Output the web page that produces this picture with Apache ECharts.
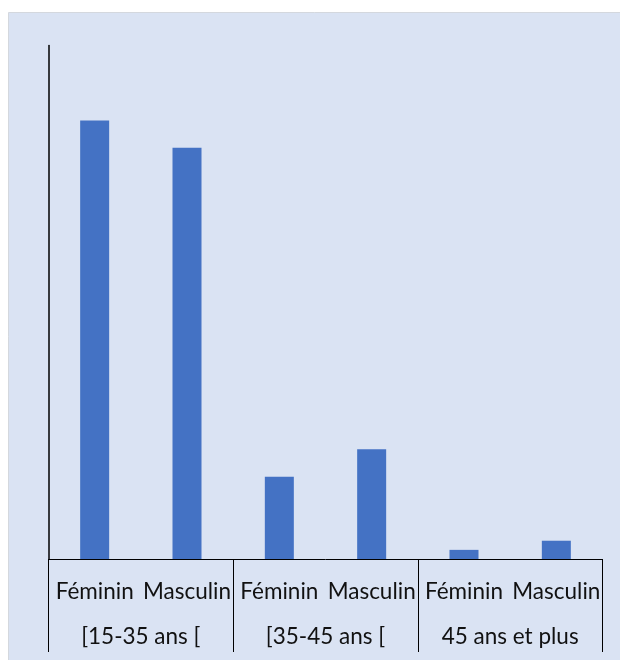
<!DOCTYPE html>
<html>
<head>
<meta charset="utf-8">
<script src="https://cdn.jsdelivr.net/npm/echarts@6/dist/echarts.min.js"></script>
<style>
html,body{margin:0;padding:0;background:#fff;}
#chart{width:620px;height:660px;}
</style>
</head>
<body>
<div id="chart"></div>
<script>
const sexes = ['Féminin', 'Masculin', 'Féminin', 'Masculin', 'Féminin', 'Masculin'];
const ageGroups = ['[15-35 ans [', '[35-45 ans [', '45 ans et plus'];
const values = [48, 45, 9, 12, 1, 2];
const yMax = 56.2;

const chart = echarts.init(document.getElementById('chart'), null, {renderer: 'canvas'});
const font = 'Lato, "Open Sans", sans-serif';
chart.setOption({
  animation: false,
  backgroundColor: '#ffffff',
  graphic: [{
    type: 'rect', z: -10, silent: true,
    shape: {x: 8.5, y: 12.5, width: 620, height: 660},
    style: {fill: '#dae3f3', stroke: '#d4d8de', lineWidth: 1}
  }],
  grid: {left: 48.5, right: 17.5, top: 45.5, bottom: 101},
  xAxis: [{
    type: 'category',
    data: sexes,
    position: 'bottom',
    axisLine: {show: true, lineStyle: {color: '#000', width: 1}},
    axisTick: {show: false},
    axisLabel: {
      interval: 0, color: '#111', fontFamily: font, fontSize: 22.5,
      verticalAlign: 'middle', margin: 33
    }
  }, {
    type: 'category',
    data: ageGroups,
    position: 'bottom',
    axisLine: {show: false},
    axisTick: {show: true, length: 93, lineStyle: {color: '#000', width: 1}},
    axisLabel: {
      interval: 0, color: '#111', fontFamily: font, fontSize: 22.5,
      verticalAlign: 'middle', margin: 78
    }
  }],
  yAxis: {
    type: 'value', min: 0, max: yMax,
    axisLine: {show: true, lineStyle: {color: '#000', width: 1.5}},
    axisTick: {show: false},
    axisLabel: {show: false},
    splitLine: {show: false}
  },
  series: [{
    type: 'bar',
    data: values,
    xAxisIndex: 0,
    barWidth: 29,
    itemStyle: {color: '#4472c4'}
  }]
});
</script>
</body>
</html>
